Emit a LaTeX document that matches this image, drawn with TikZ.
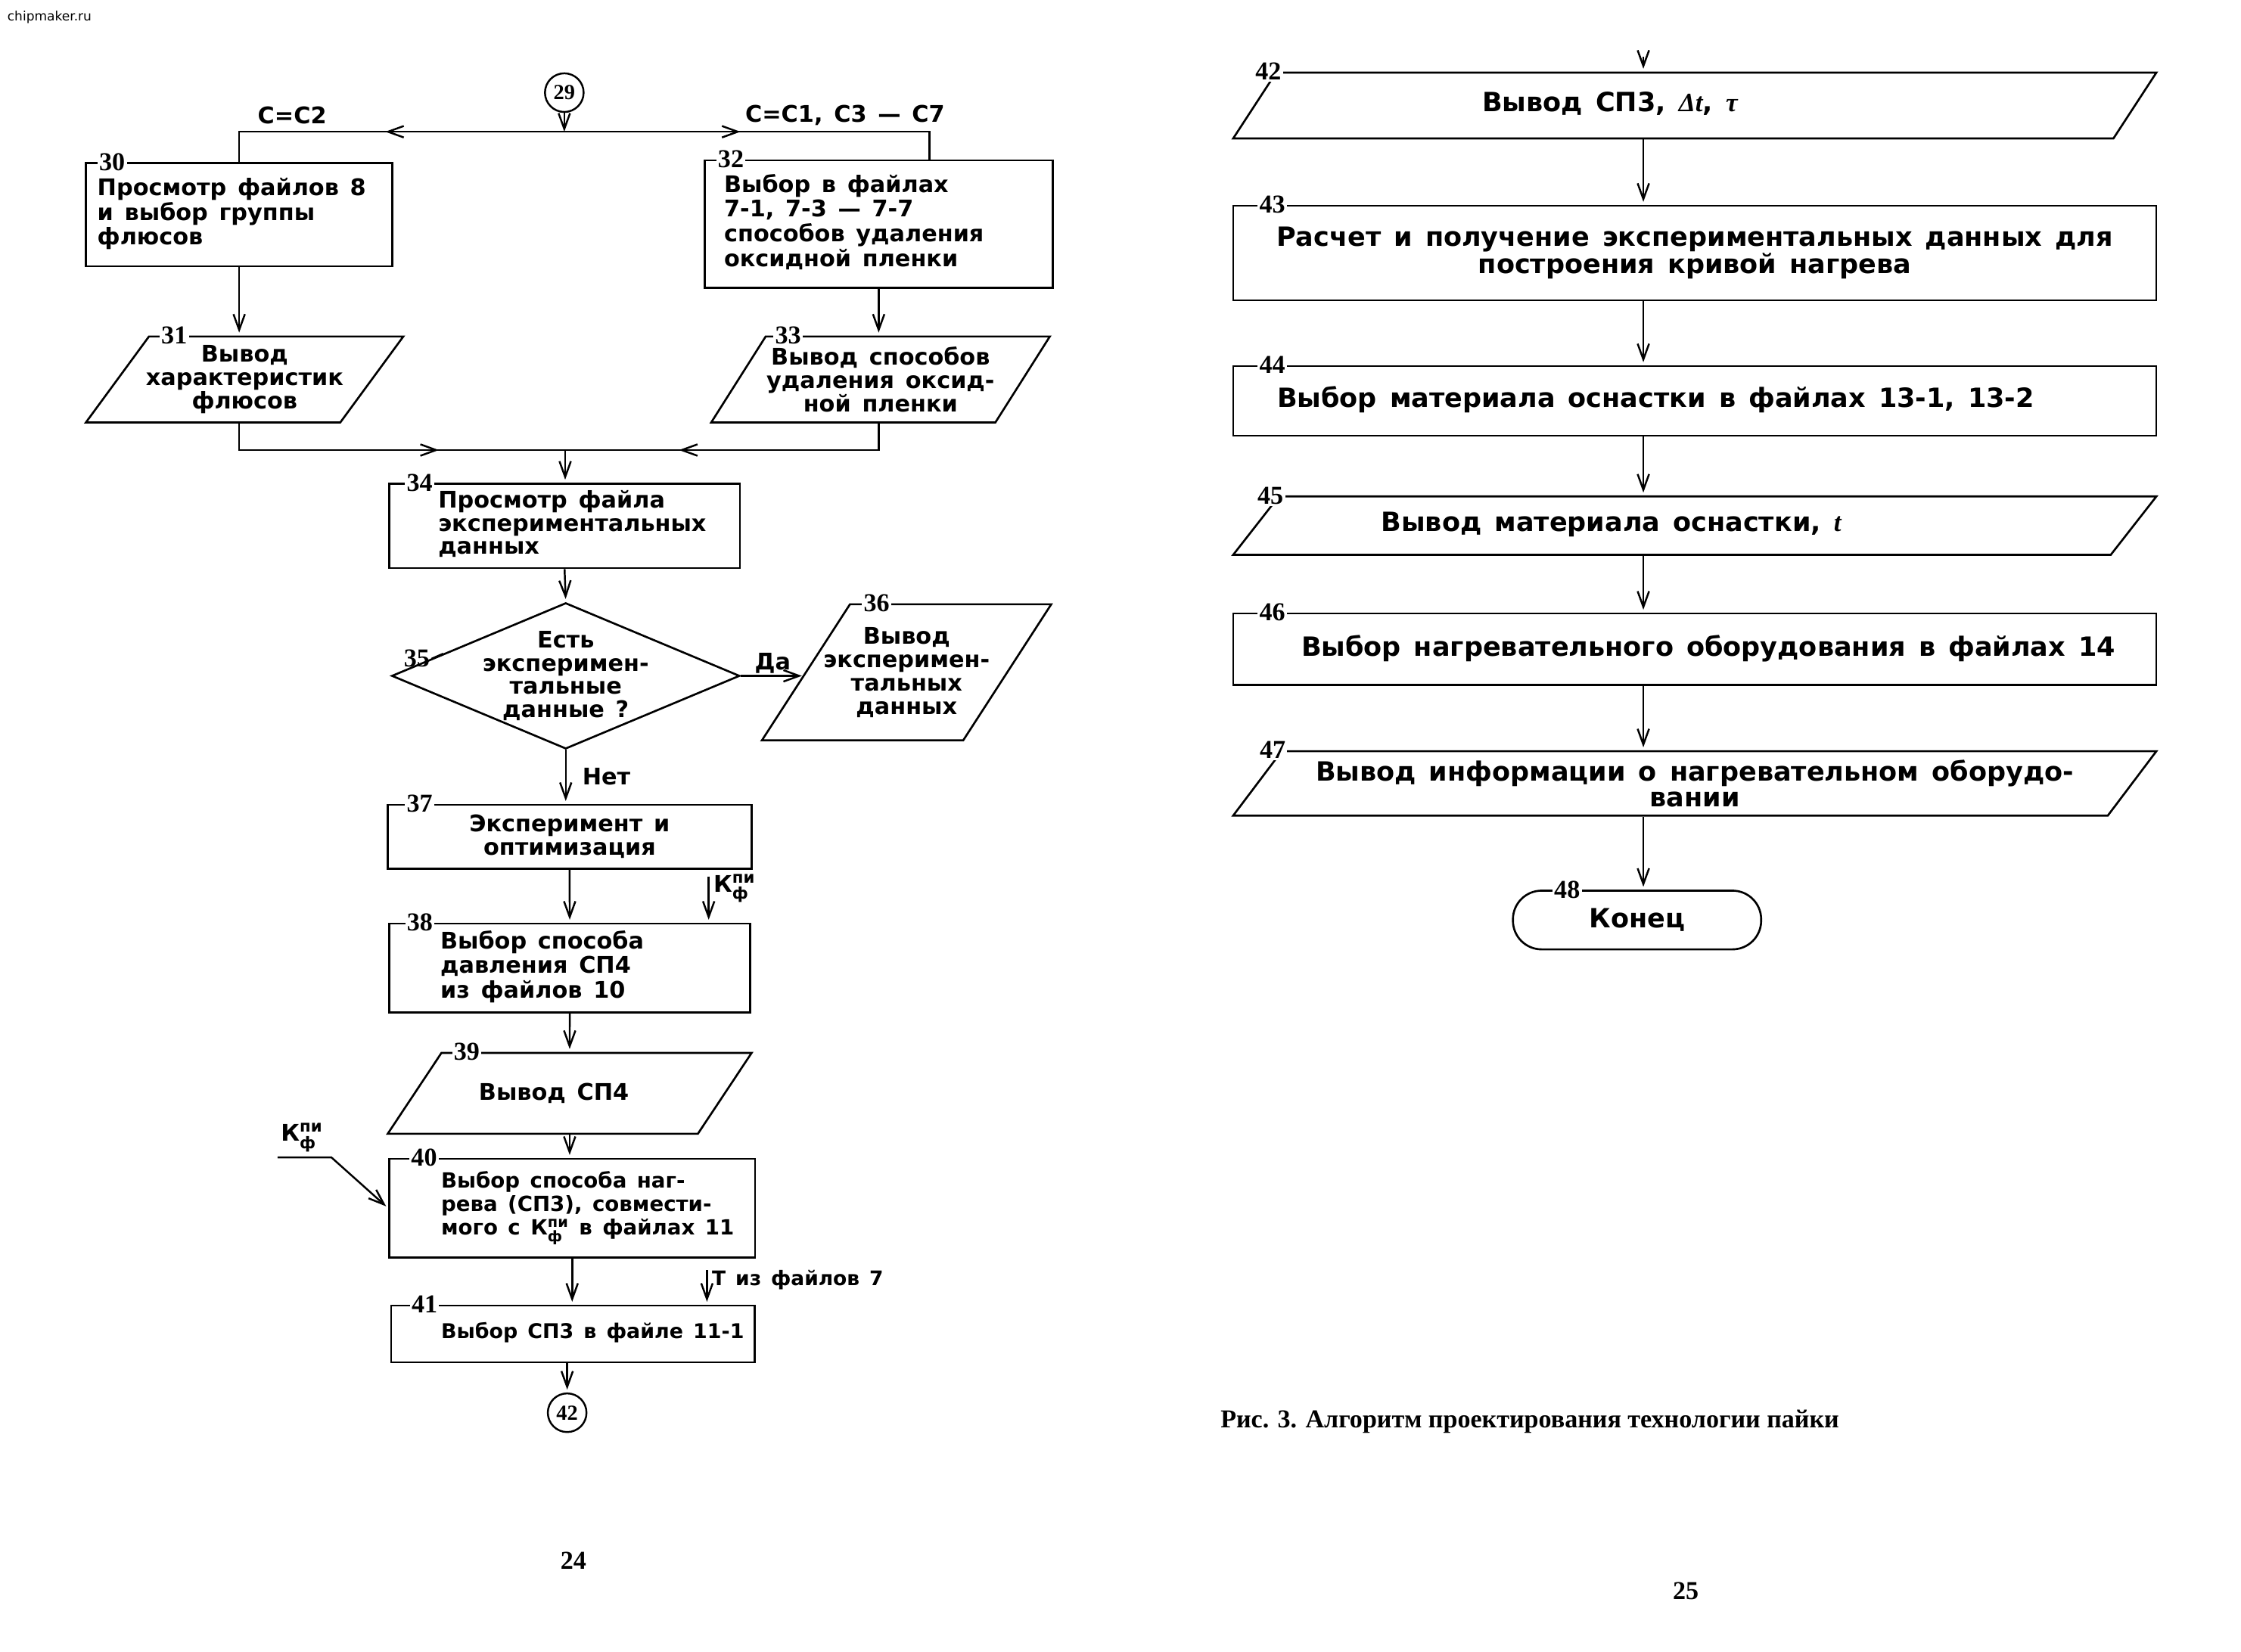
\documentclass[tikz,border=0pt]{standalone}
\usepackage{amsmath}
\usepackage{fontspec}
\setmainfont{DejaVu Sans}[WordSpace=1.4]
\newfontfamily\serifnum{Liberation Serif}
\newfontfamily\varfont{Liberation Serif}
\usetikzlibrary{shapes.geometric,arrows.meta,decorations.markings,calc}
\newcommand{\boxfont}{\fontsize{16}{16.3}\selectfont\bfseries}
\newcommand{\smallboxfont}{\fontsize{14.6}{16.3}\selectfont\bfseries}
\newcommand{\rightfont}{\fontsize{18.5}{18}\selectfont\bfseries}
\newcommand{\kfpi}{К$^{\text{пи}}_{\text{ф}}$}
\newcommand{\lbox}[2]{\makebox[#1][l]{\begin{tabular}{@{}l@{}}#2\end{tabular}}}

\begin{document}
\begin{tikzpicture}[yscale=-1
,pstyle0/.style={line width=1.3pt,-{Straight Barb[length=11pt,width=8pt]},shorten >=2pt}
,pstyle1/.style={draw,line width=1.4pt,inner sep=0pt,font=\boxfont}
,pstyle2/.style={draw,line width=1.4pt,inner xsep=0pt,shape=trapezium,trapezium stretches body=true}
,pstyle3/.style={fill=white,inner sep=1.2pt,font=\serifnum\bfseries\fontsize{18}{18}\selectfont}
,pstyle4/.style={inner sep=0pt,font=\boxfont}
,pstyle5/.style={line width=1.3pt,postaction={decorate},decoration={markings,mark=at position #1 with {\arrow{Straight Barb[length=11pt,width=8pt]}}}}
,pstyle6/.style={draw,circle,line width=1.3pt,minimum size=27pt,inner sep=0pt,font=\serifnum\bfseries\fontsize{15}{15}\selectfont}
,pstyle7/.style={align=center,inner sep=0pt,font=\boxfont}
,pstyle8/.style={inner sep=0pt,font=\serifnum\bfseries\fontsize{18}{18}\selectfont}
,pstyle9/.style={inner sep=0pt,font=\rightfont}
]
\useasboundingbox[fill=white] (0pt,0pt) rectangle (1564.7pt,1153.2pt);
\node[inner sep=0pt,anchor=west,font=\fontsize{9}{9}\selectfont] (site) at (5pt,12.3pt) {chipmaker.ru};
\node[pstyle6] (c29) at (394pt,64.7pt) {29};
\coordinate (j29) at (394pt,92pt);
\node[pstyle4] (lc2) at (204pt,80.6pt) {С=С2};
\node[pstyle4] (lc17) at (590pt,80.6pt) {С=С1, С3 — С7};
\node[pstyle1,minimum width=214pt,minimum height=72pt] (b30) at (167pt,150pt) {\lbox{198pt}{Просмотр файлов 8\\и выбор группы\\флюсов}};
\node[pstyle3] at ([xshift=19pt]b30.north west) {30};
\node[pstyle1,minimum width=243pt,minimum height=89pt] (b32) at (613.5pt,156.5pt) {\lbox{215.8pt}{Выбор в файлах\\7-1, 7-3 — 7-7\\способов удаления\\оксидной пленки}};
\node[pstyle3] at ([xshift=19pt]b32.north west) {32};
\node[pstyle2,minimum width=221.6pt,inner ysep=30pt,trapezium left angle=53.75,trapezium right angle=126.25,label={[pstyle7]center:Вывод\\характеристик\\флюсов}] (b31) at (170.8pt,265pt) {};
\node[pstyle3] at ([xshift=18pt]b31.top left corner) {31};
\node[pstyle2,minimum width=236.4pt,inner ysep=30pt,trapezium left angle=57.65,trapezium right angle=122.35,label={[pstyle7]center:Вывод способов\\удаления оксид-\\ной пленки}] (b33) at (614.8pt,265pt) {};
\node[pstyle3] at ([xshift=16pt]b33.top left corner) {33};
\coordinate (j34) at (394.6pt,314.3pt);
\node[pstyle1,minimum width=245pt,minimum height=59pt] (b34) at (394.2pt,367.2pt) {\lbox{176.4pt}{Просмотр файла\\экспериментальных\\данных}};
\node[pstyle3] at ([xshift=22pt]b34.north west) {34};
\node[pstyle1,shape=diamond,minimum width=243pt,minimum height=102pt,label={[pstyle7]center:Есть\\эксперимен-\\тальные\\данные ?}] (b35) at (395pt,472pt) {};
\node[pstyle3,fill=none] (l35) at (291pt,460pt) {35};
\node[pstyle2,minimum width=202pt,inner ysep=47.5pt,trapezium left angle=57.1,trapezium right angle=122.9,label={[pstyle7]center:Вывод\\эксперимен-\\тальных\\данных}] (b36) at (633pt,469.5pt) {};
\node[pstyle3] at ([xshift=19pt]b36.top left corner) {36};
\node[pstyle1,minimum width=254pt,minimum height=44.5pt,align=center] (b37) at (397.7pt,584.3pt) {Эксперимент и\\оптимизация};
\node[pstyle3] at ([xshift=23pt]b37.north west) {37};
\coordinate (kin) at (494.8pt,612pt);
\node[pstyle4,anchor=base west] (lk38) at (498pt,623pt) {\kfpi};
\node[pstyle1,minimum width=252pt,minimum height=62pt] (b38) at (397.8pt,676pt) {\lbox{180.6pt}{Выбор способа\\давления СП4\\из файлов 10}};
\node[pstyle3] at ([xshift=22pt]b38.north west) {38};
\node[pstyle2,minimum width=254.1pt,inner ysep=28.25pt,trapezium left angle=56.4,trapezium right angle=123.6,label={[pstyle7,xshift=-11pt]center:Вывод СП4}] (b39) at (397.75pt,763.55pt) {};
\node[pstyle3] at ([xshift=18pt]b39.top left corner) {39};
\coordinate (kf) at (193.8pt,808.3pt);
\coordinate (kb) at (231.4pt,808.3pt);
\node[pstyle4,anchor=base west] (lk40) at (196pt,797pt) {\kfpi};
\node[pstyle1,minimum width=255.4pt,minimum height=69pt,font=\smallboxfont] (b40) at (399.5pt,843.8pt) {\lbox{183pt}{Выбор способа наг-\\рева (СП3), совмести-\\мого с \kfpi{} в файлах 11}};
\node[pstyle3] at ([xshift=25pt]b40.north west) {40};
\coordinate (tin) at (493.6pt,887pt);
\node[inner sep=0pt,anchor=base west,font=\fontsize{14}{14}\selectfont\bfseries] (lt41) at (497pt,898pt) {Т из файлов 7};
\node[pstyle1,minimum width=254pt,minimum height=39.6pt,font=\fontsize{14.2}{16}\selectfont\bfseries] (b41) at (400.1pt,931.6pt) {\lbox{184.2pt}{Выбор СП3 в файле 11-1}};
\node[pstyle3] at ([xshift=24pt]b41.north west) {41};
\node[pstyle6] (c42) at (396pt,986.6pt) {42};
\node[pstyle8] (p24) at (400.4pt,1090pt) {24};
\coordinate (top42) at (1147.4pt,39.8pt);
\node[pstyle2,minimum width=644.6pt,inner ysep=23pt,trapezium left angle=56.9,trapezium right angle=123.1,label={[pstyle9]center:\lbox{296.6pt}{Вывод СП3, {\varfont\itshape Δt}, {\varfont\itshape τ}}}] (b42) at (1183.3pt,73.7pt) {};
\node[pstyle3] at ([xshift=-5pt]b42.top left corner) {42};
\node[pstyle1,minimum width=644.6pt,minimum height=66pt,align=center,font=\rightfont] (b43) at (1183.3pt,176.65pt) {Расчет и получение экспериментальных данных для\\построения кривой нагрева};
\node[pstyle3] at ([xshift=28pt]b43.north west) {43};
\node[pstyle1,minimum width=644.6pt,minimum height=48.7pt,font=\rightfont] (b44) at (1183.3pt,280pt) {\lbox{583.2pt}{Выбор материала оснастки в файлах 13-1, 13-2}};
\node[pstyle3] at ([xshift=28pt]b44.north west) {44};
\node[pstyle2,minimum width=644.6pt,inner ysep=20.4pt,trapezium left angle=52,trapezium right angle=128,label={[pstyle9]center:\lbox{437.8pt}{Вывод материала оснастки, {\varfont\itshape t}}}] (b45) at (1183.3pt,367.1pt) {};
\node[pstyle3] at ([xshift=-5.5pt]b45.top left corner) {45};
\node[pstyle1,minimum width=644.6pt,minimum height=50pt,font=\rightfont] (b46) at (1183.3pt,453.5pt) {\lbox{549.4pt}{Выбор нагревательного оборудования в файлах 14}};
\node[pstyle3] at ([xshift=28pt]b46.north west) {46};
\node[pstyle2,minimum width=644.6pt,inner ysep=22.5pt,trapezium left angle=53,trapezium right angle=127,label={[pstyle7,font=\rightfont]center:Вывод информации о нагревательном оборудо-\\вании}] (b47) at (1183.3pt,547.1pt) {};
\node[pstyle3] at ([xshift=-6pt]b47.top left corner) {47};
\node[pstyle1,minimum width=173.3pt,minimum height=41pt,rounded corners=20pt,font=\rightfont] (b48) at (1143pt,642.5pt) {Конец};
\node[pstyle3] at ([xshift=38.5pt]b48.north west) {48};
\node[pstyle8,anchor=base west] (cap) at (852pt,997pt) {Рис. 3. Алгоритм проектирования технологии пайки};
\node[pstyle8] (p25) at (1177pt,1111pt) {25};
\draw[pstyle0,shorten >=0pt] (c29) -- (j29);
\draw[pstyle5=125pt] (j29) -| (b30.north);
\draw[pstyle5=123pt] (j29) -| ([xshift=35.5pt]b32.north);
\draw[pstyle0] (b30.south) -- (b30.south |- b31.north);
\draw[pstyle0] (b32.south) -- (b32.south |- b33.north);
\draw[pstyle5=158pt] (b30.south |- b31.south) |- (j34);
\draw[pstyle5=158pt] (b32.south |- b33.south) |- (j34);
\draw[pstyle0] (j34) -- (j34 |- b34.north);
\draw[pstyle0] (b34.south) -- (b35.north);
\draw[line width=1.3pt] (l35.east) -- ($(b35.west)!0.3!(b35.north)$);
\draw[pstyle0] (b35.east) -- (b35.east -| b36.west) node[pstyle4,midway,above=1pt] {Да};
\draw[pstyle0] (b35.south) -- (b35.south |- b37.north) node[pstyle4,midway,right=11pt] {Нет};
\draw[pstyle0] (b37.south) -- (b38.north);
\draw[pstyle0] (kin) -- (kin |- b38.north);
\draw[pstyle0] (b38.south) -- (b39.north);
\draw[pstyle0] (b39.south) -- (b39.south |- b40.north);
\draw[pstyle0] (kf) -- (kb) -- (b40.west);
\draw[pstyle0] (b40.south) -- (b40.south |- b41.north);
\draw[pstyle0] (tin) -- (tin |- b41.north);
\draw[pstyle0] (b41.south -| c42) -- (c42.north);
\draw[pstyle0] (top42) -- (top42 |- b42.north);
\draw[pstyle0] (top42 |- b42.south) -- (top42 |- b43.north);
\draw[pstyle0] (top42 |- b43.south) -- (top42 |- b44.north);
\draw[pstyle0] (top42 |- b44.south) -- (top42 |- b45.north);
\draw[pstyle0] (top42 |- b45.south) -- (top42 |- b46.north);
\draw[pstyle0] (top42 |- b46.south) -- (top42 |- b47.north);
\draw[pstyle0] (top42 |- b47.south) -- (top42 |- b48.north);
\end{tikzpicture}
\end{document}
